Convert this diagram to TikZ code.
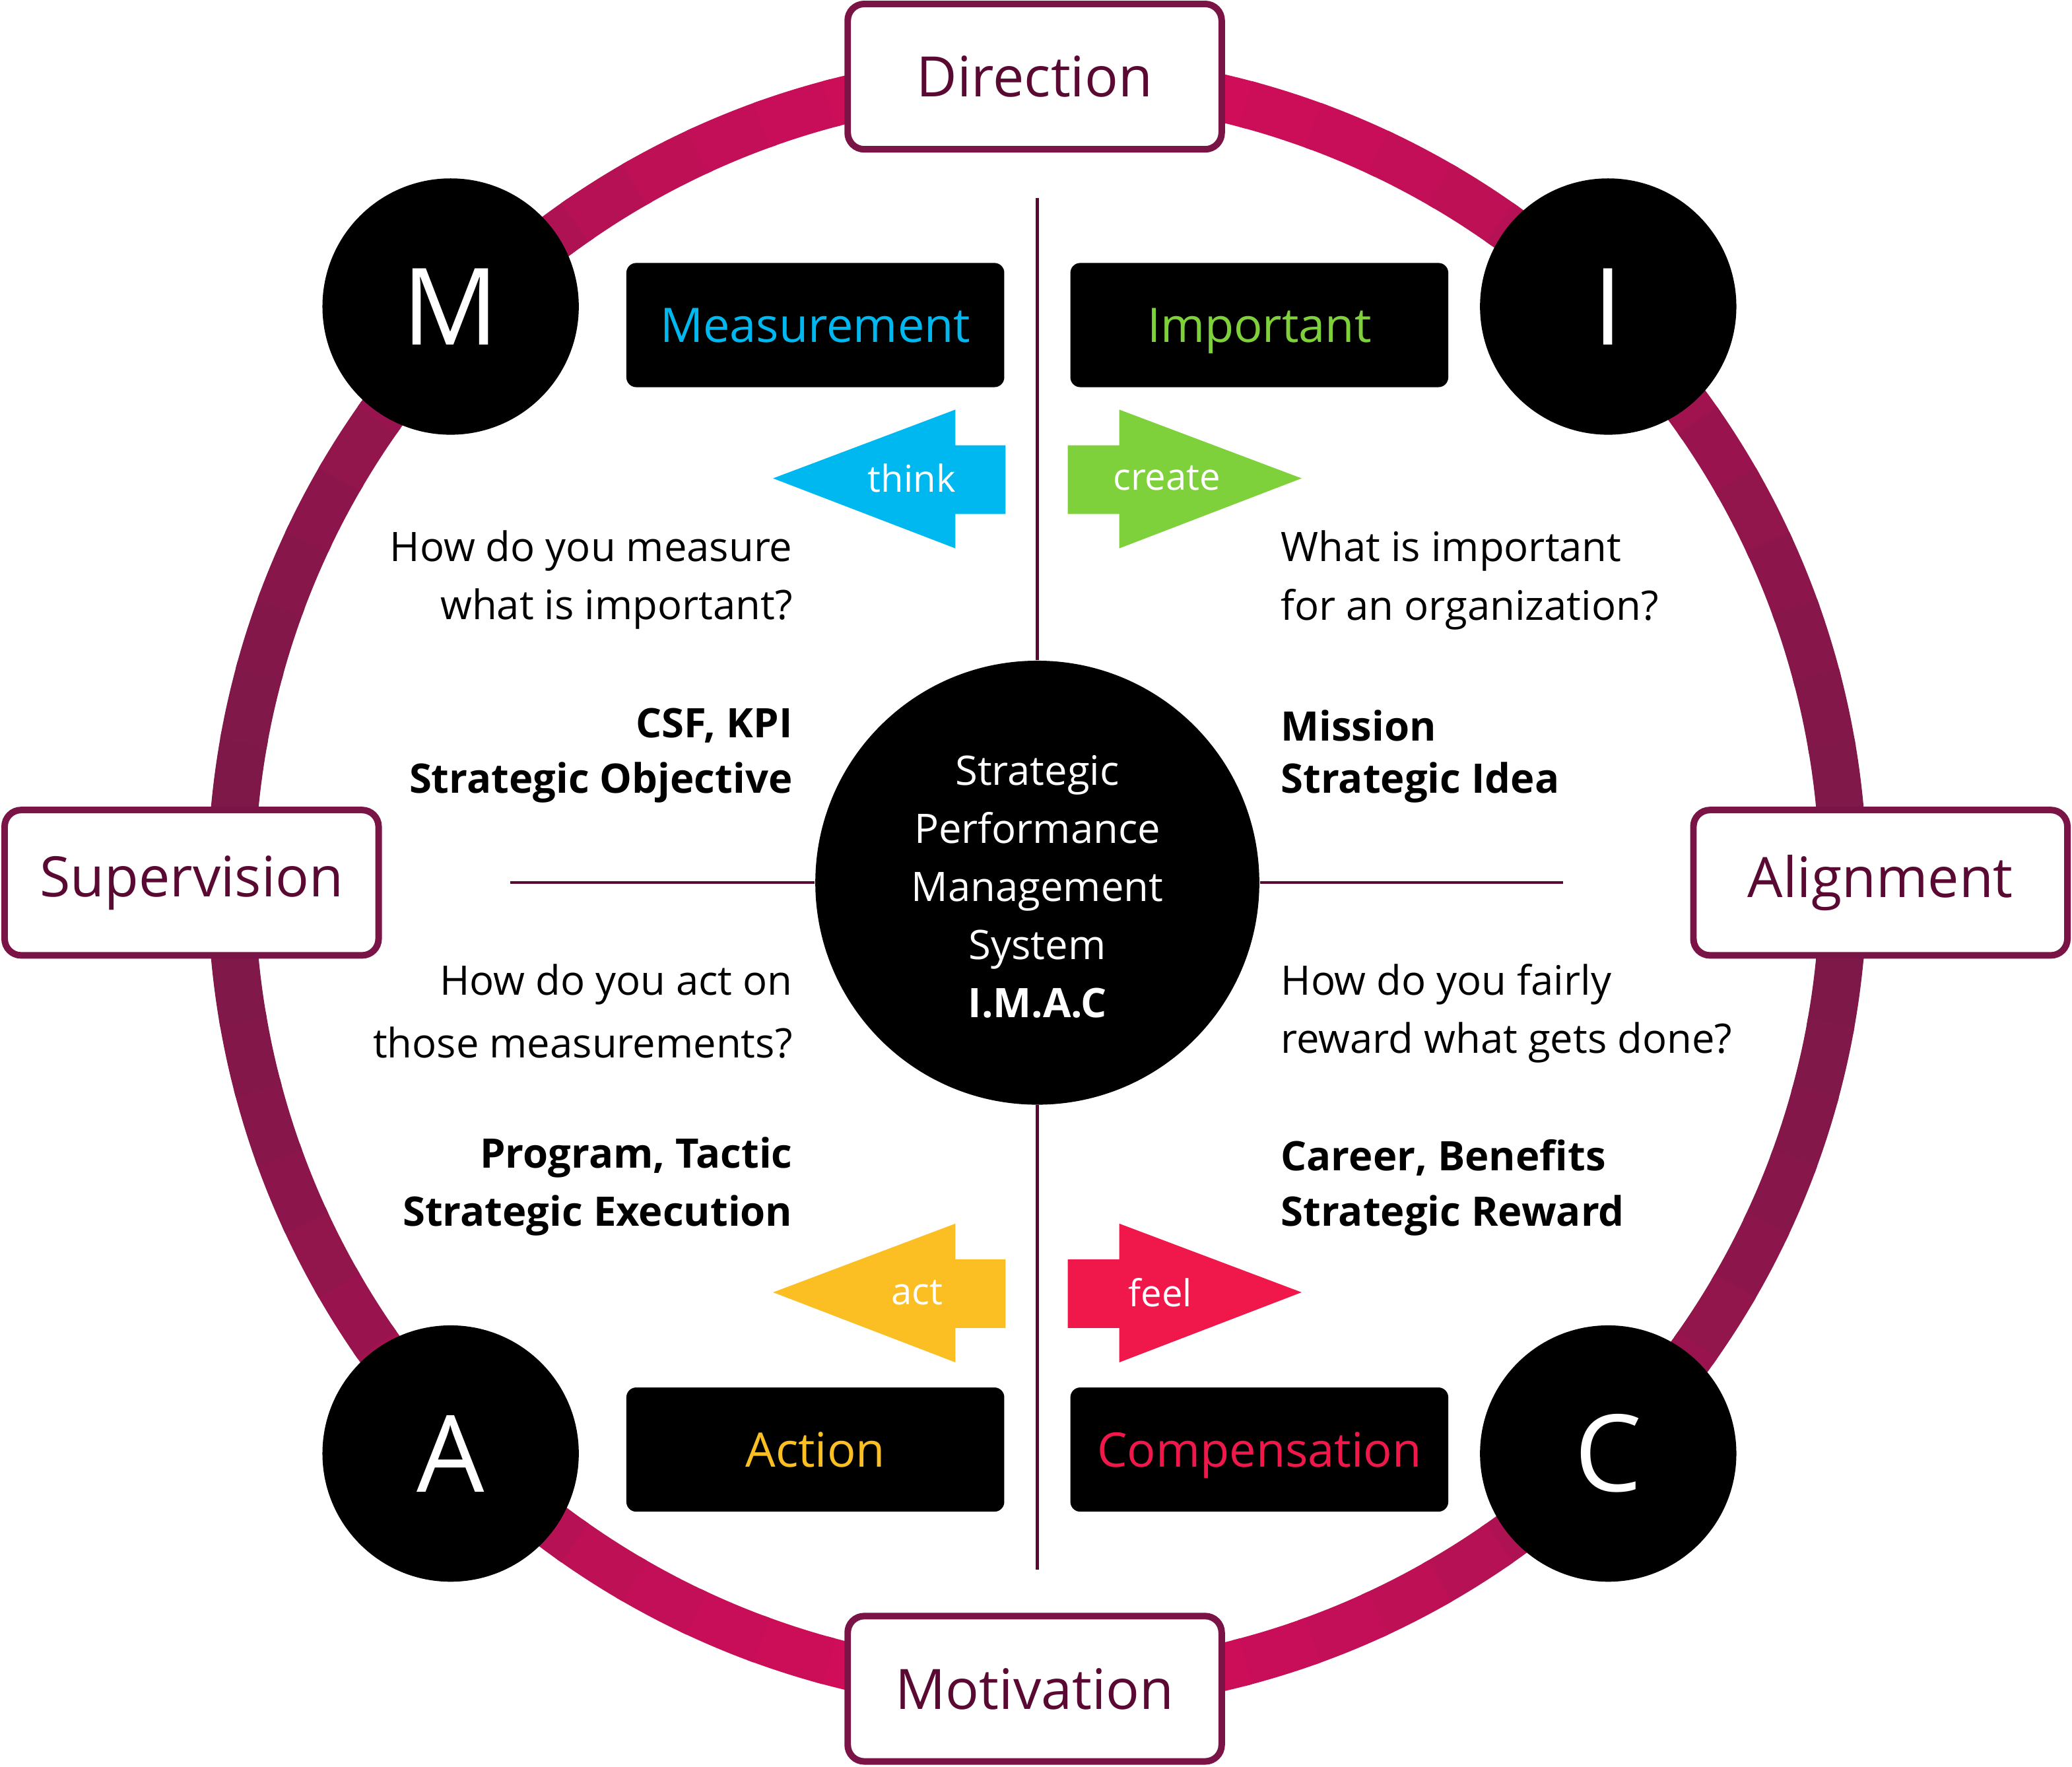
\documentclass[tikz,border=0pt]{standalone}
\usepackage{fontspec}
\setmainfont{Open Sans}
\begin{document}
\begin{tikzpicture}[x=0.02cm,y=-0.02cm,
  lbl/.style={draw=bord,line width=5*0.567pt,fill=white,rounded corners=0.25cm,minimum width=283*0.02cm,minimum height=110*0.02cm,text=dtext,font=\fontsize{24}{28}\selectfont},
  letter/.style={circle,fill=black,minimum size=194*0.02cm,inner sep=0,text=white,font=\fontsize{46}{50}\selectfont},
  bbox/.style={fill=black,rounded corners=0.15cm,minimum width=286*0.02cm,minimum height=94*0.02cm,font=\fontsize{20.5}{24}\selectfont},
  btxt/.style={font=\fontsize{20.5}{24}\selectfont,anchor=base,inner sep=0},
  q/.style={font=\fontsize{17.5}{20}\selectfont,inner sep=0},
  qb/.style={q,font=\fontsize{17.5}{20}\selectfont\bfseries},
  arrtxt/.style={text=white,font=\fontsize{16}{19}\selectfont},
  sep/.style={draw=dtext,line width=1.2pt}]
\definecolor{mag}{HTML}{D20D5A}
\definecolor{pur}{HTML}{7D1848}
\definecolor{bord}{HTML}{7A1446}
\definecolor{dtext}{HTML}{5A0A32}
\definecolor{cy}{HTML}{00B8F0}
\definecolor{gr}{HTML}{7ED13B}
\definecolor{am}{HTML}{FBBF24}
\definecolor{rd}{HTML}{F0184A}
\useasboundingbox (0,0) rectangle (1568,1337);
% ring
\foreach \a in {0,5,...,355}{
  \pgfmathsetmacro{\p}{50+50*cos(2*(\a-90))}
  \draw[line width=36*0.567pt,color=mag!\p!pur] ([shift={(\a:610)}]785,668) arc[start angle=\a,end angle=\a+5.5,radius=610];
}
\coordinate (c) at (785,668);
% separators
\coordinate (vt) at (785,150); \coordinate (vb) at (785,1188);
\coordinate (hl) at (386,668); \coordinate (hr) at (1183,668);
\node[circle,fill=black,minimum size=336*0.02cm,inner sep=0] (ctr) at (c) {};
\draw[sep] (vt) -- (ctr.north);
\draw[sep] (ctr.south) -- (vb);
\draw[sep] (hl) -- (ctr.west);
\draw[sep] (ctr.east) -- (hr);
\node[text=white,align=center,font=\fontsize{17.5}{25}\selectfont] at (785,671) {Strategic\\Performance\\Management\\System\\\textbf{I.M.A.C}};
% labels
\node[lbl] (dir) at (783,58) {Direction};
\node[lbl] (sup) at (145,668) {Supervision};
\node[lbl] (ali) at (1423,668) {Alignment};
\node[lbl] (mot) at (783,1278) {Motivation};
% letters
\node[letter] (M) at (341,232) {M};
\node[letter] (I) at (1217,232) {I};
\node[letter] (A) at (341,1100) {A};
\node[letter] (C) at (1217,1100) {C};
% black boxes
\node[bbox] (meas) at (617,246) {};
\node[bbox] (imp) at (953,246) {};
\node[bbox] (act) at (617,1097) {};
\node[bbox] (comp) at (953,1097) {};
\node[btxt,text=cy] (tmeas) at (617,259) {Measurement};
\node[btxt,text=gr] (timp) at (953,259) {Important};
\node[btxt,text=am] (tact2) at (617,1110) {Action};
\node[btxt,text=rd] (tcomp) at (953,1110) {Compensation};
% arrows
\fill[cy] (585,362) -- (723,310) -- (723,337) -- (761,337) -- (761,389) -- (723,389) -- (723,415) -- cycle;
\node[arrtxt] (tthink) at (690,362) {think};
\fill[gr] (985,362) -- (847,310) -- (847,337) -- (808,337) -- (808,389) -- (847,389) -- (847,415) -- cycle;
\node[arrtxt] (tcreate) at (883,362) {create};
\fill[am] (585,978) -- (723,926) -- (723,953) -- (761,953) -- (761,1005) -- (723,1005) -- (723,1031) -- cycle;
\node[arrtxt] (tact) at (694,978) {act};
\fill[rd] (985,978) -- (847,926) -- (847,953) -- (808,953) -- (808,1005) -- (847,1005) -- (847,1031) -- cycle;
\node[arrtxt] (tfeel) at (878,978) {feel};
% texts left
\node[q,anchor=east] (l1) at (600,417) {How do you measure};
\node[q,anchor=east] (l2) at (600,461) {what is important?};
\node[qb,anchor=east] (l3) at (600,549) {CSF, KPI};
\node[qb,anchor=east] (l4) at (600,592) {Strategic Objective};
\node[q,anchor=east] (l5) at (600,745) {How do you act on};
\node[q,anchor=east] (l6) at (600,789) {those measurements?};
\node[qb,anchor=east] (l7) at (600,876) {Program, Tactic};
\node[qb,anchor=east] (l8) at (600,920) {Strategic Execution};
% texts right
\node[q,anchor=west] (r1) at (969,417) {What is important};
\node[q,anchor=west] (r2) at (969,461) {for an organization?};
\node[qb,anchor=west] (r3) at (969,549) {Mission};
\node[qb,anchor=west] (r4) at (969,592) {Strategic Idea};
\node[q,anchor=west] (r5) at (969,745) {How do you fairly};
\node[q,anchor=west] (r6) at (969,789) {reward what gets done?};
\node[qb,anchor=west] (r7) at (969,876) {Career, Benefits};
\node[qb,anchor=west] (r8) at (969,920) {Strategic Reward};
\end{tikzpicture}
\end{document}
